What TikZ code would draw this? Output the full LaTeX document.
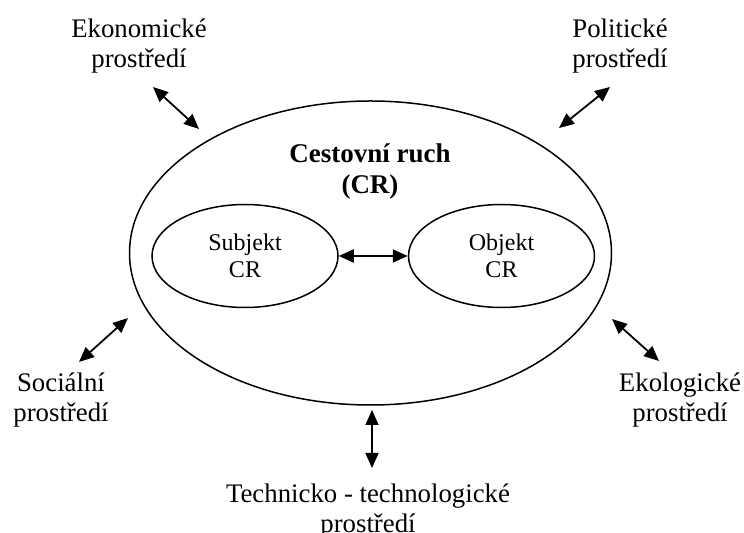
\documentclass[tikz,border=0pt]{standalone}
\usepackage{fontspec}
\setmainfont{Liberation Serif}
\usetikzlibrary{shapes.geometric,arrows.meta}

\begin{document}
\begin{tikzpicture}[x=0.5pt,y=-0.5pt,
    okoli/.style={align=center,font=\fontsize{13.4}{15}\selectfont},
    cast/.style={draw,ellipse,line width=0.75pt,minimum width=93pt,minimum height=51.5pt,
      align=center,font=\fontsize{12}{13.5}\selectfont},
    vazba/.style={line width=0.9pt,{Triangle[length=7.5pt,width=6.5pt]}-{Triangle[length=7.5pt,width=6.5pt]}}]
      \useasboundingbox (0,0) rectangle (744,533);
      % tourism and its two parts
      \node[draw,ellipse,line width=0.75pt,minimum width=241pt,minimum height=152pt] (cr) at (370.5,253) {};
      \node[font=\fontsize{13.5}{15.5}\selectfont\bfseries,align=center] (nazev) at (370,171) {Cestovní ruch\\(CR)};
      \node[cast] (subj) at (245,256) {Subjekt\\CR};
      \node[cast] (obj) at (501.5,256) {Objekt\\CR};
      % surroundings
      \node[okoli] (ekon) at (139,46) {Ekonomické\\prostředí};
      \node[okoli] (polit) at (620,46) {Politické\\prostředí};
      \node[okoli] (soc) at (61,400) {Sociální\\prostředí};
      \node[okoli] (ekol) at (680,400) {Ekologické\\prostředí};
      \node[okoli] (tech) at (368,511) {Technicko - technologické\\prostředí};
      \coordinate (ekon1) at (153,87);   \coordinate (ekon2) at (199,129);
      \coordinate (polit1) at (610,87);  \coordinate (polit2) at (559,128);
      \coordinate (soc1) at (79,362);    \coordinate (soc2) at (128,318);
      \coordinate (ekol1) at (659,361);  \coordinate (ekol2) at (612,319);
      \coordinate (tech1) at (372,468);  \coordinate (tech2) at (372,410);
      \begin{scope}[vazba]
        \draw (subj) to (obj);
        \draw (ekon1) to (ekon2);
        \draw (polit1) to (polit2);
        \draw (soc1) to (soc2);
        \draw (ekol1) to (ekol2);
        \draw (tech1) to (tech2);
      \end{scope}
    \end{tikzpicture}
\end{document}
